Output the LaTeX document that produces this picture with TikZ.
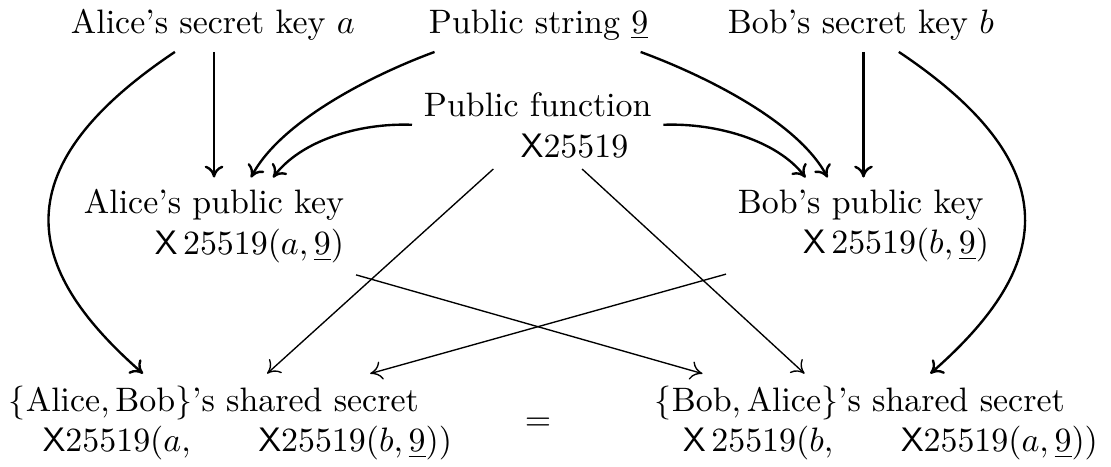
\documentclass[tikz,border=0pt]{standalone}
\usetikzlibrary{arrows.meta}
\newcommand{\xtf}{\mathsf{X}25519}
\newcommand{\xsp}{\mathsf{X}\,25519}

\begin{document}
\begin{tikzpicture}[
    % GLOBAL CFG
    x=0.295pt, y=-0.295pt,
    >={To[length=3.5pt,width=5.5pt]},
    % Styles
    txt/.style={% For one-line text nodes
        inner sep=3.33pt,
        anchor=base west,
    },
    multi/.style={% For two-line text nodes
        inner sep=3.33pt,
        align=left,
        anchor=north west,
    },
    ArrowThick/.style={% Curved arrows
        ->,
        line width=.7pt,
    },
    ArrowThin/.style={% Straight crossing arrows
        ->,
        line width=.4pt,
    },
    ]
    \useasboundingbox (0,0) rectangle (1111,466);

    % Draw keys and public values
    \node [txt] (asec) at (59,33) {Alice's secret key $a$};
    \node [txt] (pubstr) at (417,33) {Public string $\underline{9}$};
    \node [txt] (bsec) at (716,33) {Bob's secret key $b$};
    \node [multi] (pubfun) at (412,80.5) {Public function\\\hspace*{28.6pt}$\xtf$};

    % Draw public keys
    \node [multi] (apub) at (72,177.5) {Alice's public key\\\hspace*{20.9pt}$\xsp(a,\underline{9})$};
    \node [multi] (bpub) at (726,177.5) {Bob's public key\\\hspace*{19.2pt}$\xsp(b,\underline{9})$};

    % Draw shared secrets
    \node [multi] (ashared) at (-3,373.6) {$\{\mathrm{Alice},\mathrm{Bob}\}$'s shared secret\\\hspace*{10pt}$\xtf(a,$\hspace{20pt}$\xtf(b,\underline{9}))$};
    \node [multi] (bshared) at (643,373.6) {$\{\mathrm{Bob},\mathrm{Alice}\}$'s shared secret\\\hspace*{8.3pt}$\xsp(b,$\hspace{20pt}$\xtf(a,\underline{9}))$};
    \node (eq) at (538,424) {$=$};

    % Connect all
    % Public keys
    \draw [ArrowThick] (apub.north |- asec.south) -- (apub.north);
    \draw [ArrowThick] (bpub.north |- bsec.south) -- (bpub.north);
    \draw [ArrowThick] ([xshift=-30.7pt]pubstr.south) .. controls +(-60,22) and +(30,-57) .. ([xshift=10.9pt]apub.north);
    \draw [ArrowThick] (pubfun.west) .. controls +(-53,-2) and +(28,-37) .. ([xshift=17.4pt]apub.north);
    \draw [ArrowThick] ([xshift=30.1pt]pubstr.south) .. controls +(60,22) and +(-30,-57) .. ([xshift=-10.6pt]bpub.north);
    \draw [ArrowThick] (pubfun.east) .. controls +(53,-2) and +(-28,-37) .. ([xshift=-17.1pt]bpub.north);

    % Secret keys to shared secrets
    \draw [ArrowThick] ([xshift=-11.2pt]asec.south) .. controls +(-181,121) and +(-113,-99) .. ([xshift=-25.8pt]ashared.north);
    \draw [ArrowThick] ([xshift=11.2pt]bsec.south) .. controls +(181,121) and +(113,-99) .. ([xshift=15.9pt]bshared.north);

    % Crossing lines
    \draw [ArrowThin] ([xshift=-13.1pt]pubfun.south) -- ([xshift=10.8pt]ashared.north);
    \draw [ArrowThin] ([xshift=13.1pt]pubfun.south) -- ([xshift=-21.2pt]bshared.north);
    \draw [ArrowThin] (apub.south east) -- ([xshift=-51.3pt]bshared.north);
    \draw [ArrowThin] (bpub.south west) -- ([xshift=41.2pt]ashared.north);

\end{tikzpicture}
\end{document}
